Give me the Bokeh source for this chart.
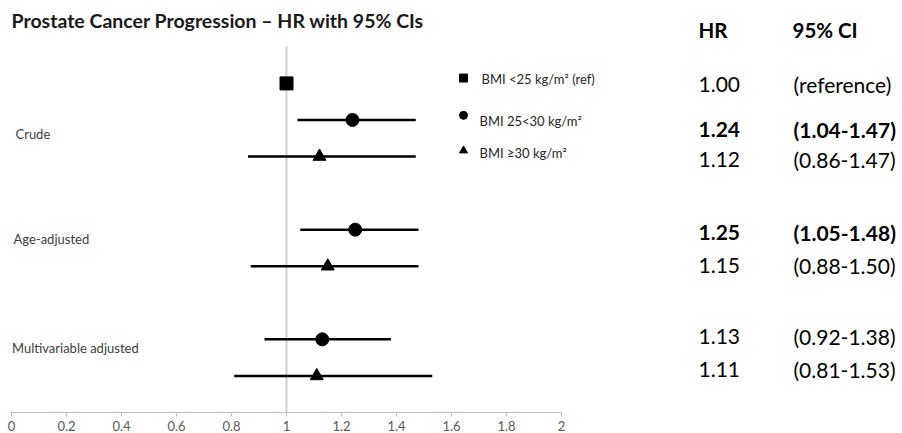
from bokeh.plotting import figure
from bokeh.models import Range1d, FixedTicker, NumeralTickFormatter, ColumnDataSource
from bokeh.core.properties import value
from bokeh.embed import file_html
from bokeh.resources import INLINE

# ---------------- data ----------------
title_text = "Prostate Cancer Progression \u2013 HR with 95% CIs"
groups = ["Crude", "Age-adjusted", "Multivariable adjusted"]
series = ["BMI <25 kg/m\u00b2 (ref)", "BMI 25<30 kg/m\u00b2", "BMI \u226530 kg/m\u00b2"]
markers = ["square", "circle", "triangle"]

row_group = [0, 0, 0, 1, 1, 2, 2]
row_series = [0, 1, 2, 1, 2, 1, 2]
hr = [1.00, 1.24, 1.12, 1.25, 1.15, 1.13, 1.11]
ci_lo = [1.00, 1.04, 0.86, 1.05, 0.87, 0.92, 0.81]
ci_hi = [1.00, 1.47, 1.47, 1.48, 1.48, 1.38, 1.53]

hr_labels = ["1.00", "1.24", "1.12", "1.25", "1.15", "1.13", "1.11"]
ci_labels = ["(reference)", "(1.04-1.47)", "(0.86-1.47)", "(1.05-1.48)",
             "(0.88-1.50)", "(0.92-1.38)", "(0.81-1.53)"]
bold_rows = [False, True, False, True, False, False, False]

x_ticks = [0, 0.2, 0.4, 0.6, 0.8, 1.0, 1.2, 1.4, 1.6, 1.8, 2.0]
ref_value = 1.0

# ---------------- layout helpers ----------------
PX_X = 275.0   # px per HR unit
X0 = 11.0      # px position of HR = 0
PX_Y = 36.3    # px per row
Y0 = 82.3      # px position of row 0
W, H = 902, 433
FRAME_H = 409


def xd(px):
    return (px - X0) / PX_X


def yd(px):
    return (px - Y0) / PX_Y


FONT = "Lato"

rows = [3 * g + s for g, s in zip(row_group, row_series)]

p = figure(width=W, height=H, output_backend="svg", toolbar_location=None,
           x_range=Range1d(xd(0), xd(W)), y_range=Range1d(yd(FRAME_H), yd(0)),
           min_border_left=0, min_border_right=0, min_border_top=0,
           min_border_bottom=0, background_fill_color="white",
           border_fill_color="white")
p.outline_line_color = None
p.grid.visible = False
p.yaxis.visible = False

# x axis
ax = p.xaxis[0]
ax.bounds = (0, 2)
ax.ticker = FixedTicker(ticks=x_ticks)
ax.formatter = NumeralTickFormatter(format="0.[0]")
ax.axis_line_color = "#bfbfbf"
ax.axis_line_width = 1
ax.major_tick_line_color = "#bfbfbf"
ax.major_tick_out = 4
ax.major_tick_in = 0
ax.minor_tick_line_color = None
ax.major_label_text_font = FONT
ax.major_label_text_font_size = "13px"
ax.major_label_text_color = "#595959"
ax.major_label_standoff = 4

# reference line
p.segment(x0=[ref_value], x1=[ref_value], y0=[-1], y1=[yd(FRAME_H)],
          line_color="#d0d0d0", line_width=2)

# CI bars (skip reference row)
ci_src = ColumnDataSource(dict(
    lo=[l for l, s in zip(ci_lo, row_series) if s > 0],
    hi=[h for h, s in zip(ci_hi, row_series) if s > 0],
    y=[r for r, s in zip(rows, row_series) if s > 0]))
p.segment(x0="lo", x1="hi", y0="y", y1="y", source=ci_src,
          line_color="black", line_width=2.5)

# markers
pt_src = ColumnDataSource(dict(
    x=hr, y=rows, m=[markers[s] for s in row_series]))
p.scatter(x="x", y="y", marker="m", source=pt_src, size=13,
          fill_color="black", line_color="black")

# title
p.text(x=[xd(11)], y=[yd(20)], text=[title_text], text_font=value(FONT),
       text_font_style="bold", text_font_size="19.5px", text_color="#1a1a1a",
       text_baseline="middle", text_align="left")

# group labels
p.text(x=[xd(15), xd(13), xd(11.5)], y=[yd(133), yd(237), yd(345)],
       text=groups, text_font=value(FONT), text_font_size="13px",
       text_color="#404040", text_baseline="middle", text_align="left")

# legend
leg_marker_y = [yd(77), yd(114), yd(149)]
leg_text_y = [yd(78), yd(120), yd(151)]
p.scatter(x=[xd(463)] * 3, y=leg_marker_y, marker=markers, size=8,
          fill_color="black", line_color="black")
p.text(x=[xd(481), xd(479), xd(479)], y=leg_text_y, text=series,
       text_font=value(FONT), text_font_size="13px", text_color="#262626",
       text_baseline="middle", text_align="left")

# table headers
p.text(x=[xd(698), xd(792)], y=[yd(29)] * 2, text=["HR", "95% CI"],
       text_font=value(FONT), text_font_style="bold", text_font_size="20.5px",
       text_color="black", text_baseline="middle", text_align="left")

# table values (vertical positions)
tab_y_px = [83, 128, 158, 230, 263, 334, 366]
for bold in (False, True):
    idx = [i for i, b in enumerate(bold_rows) if b == bold]
    src = ColumnDataSource(dict(
        y=[yd(tab_y_px[i]) for i in idx],
        hr=[hr_labels[i] for i in idx],
        ci=[ci_labels[i] for i in idx]))
    style = "bold" if bold else "normal"
    p.text(x=xd(698), y="y", text="hr", source=src, text_font=value(FONT),
           text_font_style=style, text_font_size="21px", text_color="black",
           text_baseline="middle", text_align="left")
    p.text(x=xd(793), y="y", text="ci", source=src, text_font=value(FONT),
           text_font_style=style, text_font_size="21px", text_color="black",
           text_baseline="middle", text_align="left")

open("out.html", "w").write(file_html(p, INLINE))
